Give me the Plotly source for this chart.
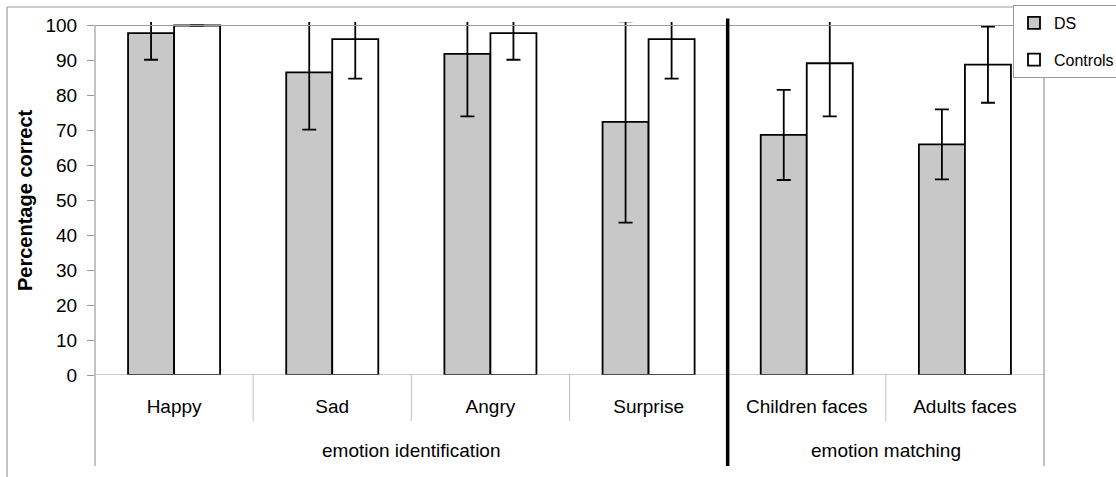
import plotly.graph_objects as go

categories = ["Happy", "Sad", "Angry", "Surprise", "Children faces", "Adults faces"]
groups = ["emotion identification", "emotion matching"]
group_sizes = [4, 2]
ds_values = [97.8, 86.6, 91.9, 72.4, 68.7, 66.0]
ds_errors = [7.6, 16.4, 17.9, 28.8, 12.9, 10.0]
ctrl_values = [100.0, 96.1, 97.8, 96.1, 89.2, 88.8]
ctrl_errors = [0.0, 11.3, 7.6, 11.3, 15.2, 10.9]
y_ticks = [0, 10, 20, 30, 40, 50, 60, 70, 80, 90, 100]

FONT = "Liberation Sans, Arial, sans-serif"
GREY = "#9a9a9a"

W, H = 1116, 477
L, R, T, B = 95, 72, 22, 102
PW = W - L - R
PH = H - T - B

fig = go.Figure()
fig.add_trace(go.Bar(
    name="DS", x=categories, y=ds_values, legendgroup="a",
    marker=dict(color="#c8c8c8", line=dict(color="black", width=1.8)),
    error_y=dict(type="data", array=ds_errors, color="black", thickness=1.8, width=7),
))
fig.add_trace(go.Bar(
    name="Controls", x=categories, y=ctrl_values, legendgroup="b",
    marker=dict(color="white", line=dict(color="black", width=1.8)),
    error_y=dict(type="data", array=ctrl_errors, color="black", thickness=1.8, width=7),
))

ymax = 101
y_top_paper = 100 / ymax
y_cat_bottom = -46 / PH
y_grp_bottom = -91 / PH

shapes = []
line_grey = dict(color=GREY, width=1.2)
shapes.append(dict(type="line", xref="paper", yref="y", x0=0, x1=1, y0=100, y1=100, line=line_grey))
shapes.append(dict(type="line", xref="paper", yref="y", x0=0, x1=1, y0=0, y1=0, line=line_grey))
shapes.append(dict(type="line", xref="paper", yref="paper", x0=0, x1=0, y0=y_grp_bottom, y1=y_top_paper, line=line_grey))
shapes.append(dict(type="line", xref="paper", yref="paper", x0=1, x1=1, y0=y_grp_bottom, y1=y_top_paper, line=line_grey))
n = len(categories)
bounds = []
acc = 0
for s in group_sizes:
    acc += s
    bounds.append(acc)
for i in range(1, n):
    if i in bounds:
        continue
    shapes.append(dict(type="line", xref="x", yref="paper", x0=i - 0.5, x1=i - 0.5,
                       y0=y_cat_bottom, y1=0, line=dict(color="#c0c0c0", width=1)))
for b in bounds[:-1]:
    shapes.append(dict(type="line", xref="x", yref="paper", x0=b - 0.5, x1=b - 0.5,
                       y0=y_grp_bottom, y1=1.01, line=dict(color="black", width=3.5)))
# outer chart border (top and left)
bx = (7 - L) / PW
by = (H - B - 7) / PH
shapes.append(dict(type="line", xref="paper", yref="paper", x0=bx, x1=1.2, y0=by, y1=by,
                   line=dict(color=GREY, width=1.2)))
shapes.append(dict(type="line", xref="paper", yref="paper", x0=bx, x1=bx, y0=-0.4, y1=by,
                   line=dict(color=GREY, width=1.2)))

annotations = []
start = 0
for g, s in zip(groups, group_sizes):
    center = start + (s - 1) / 2
    annotations.append(dict(text=g, xref="x", yref="paper", x=center, y=-75 / PH,
                            showarrow=False, font=dict(family=FONT, size=19, color="black"),
                            xanchor="center", yanchor="middle"))
    start += s
annotations.append(dict(text="<b>Percentage correct</b>", xref="paper", yref="paper",
                        x=(25 - L) / PW, y=(H - B - 200) / PH, textangle=-90, showarrow=False,
                        font=dict(family=FONT, size=20, color="black"),
                        xanchor="center", yanchor="middle"))

fig.update_layout(
    width=W, height=H,
    margin=dict(l=L, r=R, t=T, b=B, autoexpand=False),
    paper_bgcolor="white", plot_bgcolor="white",
    barmode="group", bargap=0.418, bargroupgap=0,
    showlegend=True,
    legend=dict(xref="container", yref="container", x=1013 / W, y=1 - 5 / H,
                xanchor="left", yanchor="top",
                bgcolor="white", bordercolor=GREY, borderwidth=1,
                font=dict(family=FONT, size=16, color="black"),
                tracegroupgap=13, itemwidth=30),
    shapes=shapes,
    annotations=annotations,
    font=dict(family=FONT, color="black"),
)
fig.update_xaxes(showline=False, showgrid=False, zeroline=False, ticks="",
                 tickfont=dict(family=FONT, size=19, color="black"), ticklabelstandoff=18,
                 categoryorder="array", categoryarray=categories)
fig.update_yaxes(range=[0, ymax], tickvals=y_ticks, showgrid=False, zeroline=False,
                 showline=False, ticks="outside", ticklen=7, tickcolor=GREY, tickwidth=1.2,
                 tickfont=dict(family=FONT, size=19, color="black"), ticklabelstandoff=6)

fig.write_html("out.html", config={"displayModeBar": False},
               post_script="document.body.style.margin='0';")
